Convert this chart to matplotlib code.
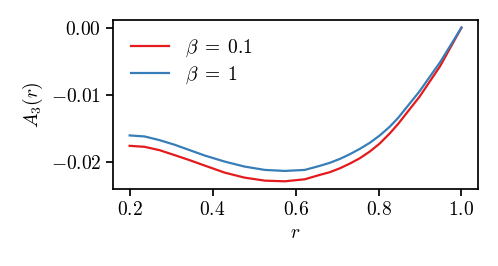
import matplotlib
matplotlib.use("Agg")
import matplotlib.pyplot as plt

plt.rcParams["font.family"] = "serif"
plt.rcParams["font.serif"] = ["cmr10"]
plt.rcParams["mathtext.fontset"] = "cm"
plt.rcParams["axes.formatter.use_mathtext"] = True
plt.rcParams["font.size"] = 14

# values
r = [0.2, 0.236, 0.272, 0.309, 0.345, 0.381, 0.429, 0.477, 0.526, 0.574,
     0.622, 0.658, 0.682, 0.707, 0.731, 0.755, 0.779, 0.803, 0.827, 0.847,
     0.899, 0.948, 1.0]
a3_beta01 = [-0.01765, -0.0178, -0.0183, -0.01905, -0.0198, -0.0206, -0.02165, -0.0224, -0.02285, -0.02295,
             -0.02265, -0.0220, -0.0216, -0.0210, -0.0203, -0.0195, -0.0185, -0.0173, -0.0158, -0.0144,
             -0.0103, -0.0058, 0.0]
a3_beta1 = [-0.0161, -0.01625, -0.0168, -0.0175, -0.0183, -0.0191, -0.0200, -0.02075, -0.02125, -0.0214,
            -0.02125, -0.02065, -0.0202, -0.0196, -0.0189, -0.0181, -0.0172, -0.0161, -0.0148, -0.0135,
            -0.0095, -0.0052, 0.0]

fig = plt.figure(figsize=(4.98, 2.66), dpi=100)
ax = fig.add_axes([0.227, 0.2895, 0.733, 0.6355])

ax.plot(r, a3_beta01, color="#e41a1c", lw=1.6, label=r"$\beta\;=\;0.1$")
ax.plot(r, a3_beta1, color="#377eb8", lw=1.6, label=r"$\beta\;=\;1$")

ax.set_xticks([0.2, 0.4, 0.6, 0.8, 1.0])
ax.set_yticks([0.0, -0.01, -0.02])
ax.set_xlabel(r"$r$")
ax.set_ylabel(r"$A_3(r)$")
for s in ax.spines.values():
    s.set_linewidth(1.25)
ax.tick_params(direction="out", length=5, width=1.25)
ax.legend(loc="upper left", frameon=False, labelspacing=0.3)

fig.savefig("out.png", dpi=100)
